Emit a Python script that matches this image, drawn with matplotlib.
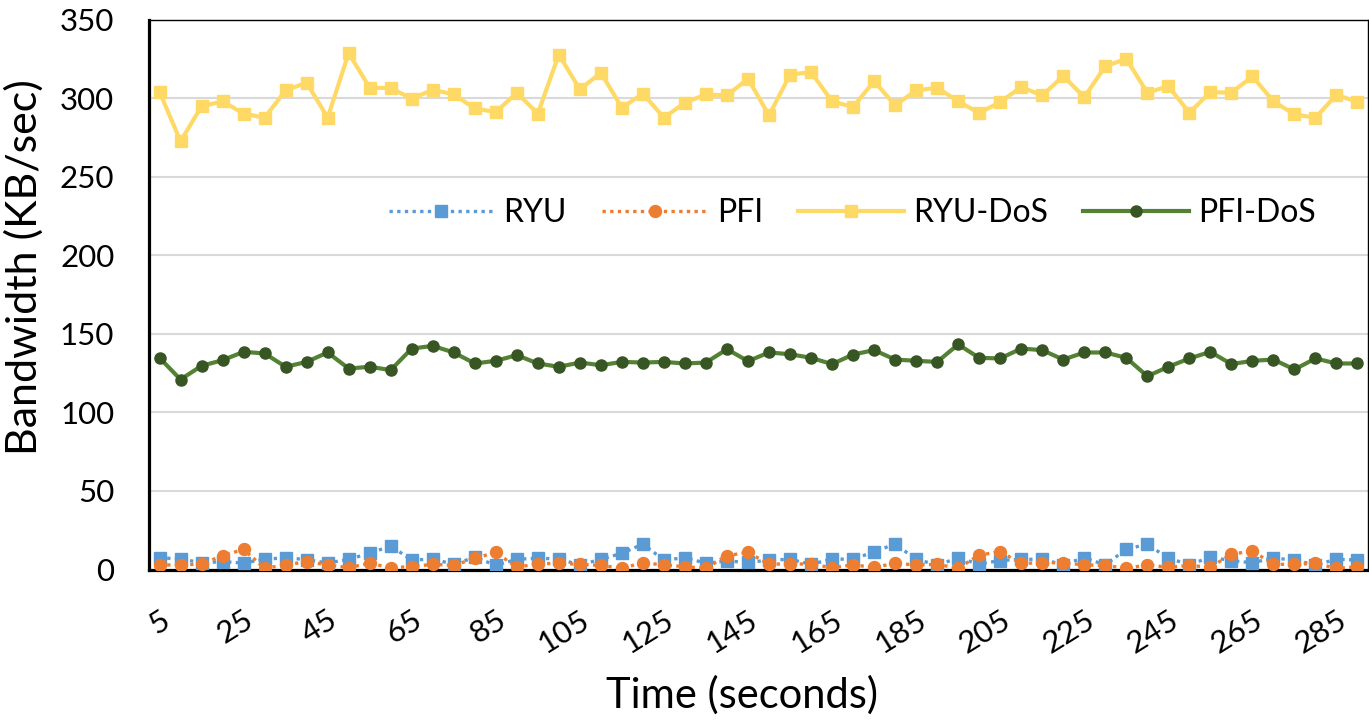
import matplotlib
matplotlib.use('Agg')
import matplotlib.pyplot as plt

plt.rcParams['font.family'] = ['Lato', 'DejaVu Sans']

# ---- data ----
time_s = [5, 10, 15, 20, 25, 30, 35, 40, 45, 50, 55, 60, 65, 70, 75, 80, 85, 90, 95, 100,
          105, 110, 115, 120, 125, 130, 135, 140, 145, 150, 155, 160, 165, 170, 175, 180,
          185, 190, 195, 200, 205, 210, 215, 220, 225, 230, 235, 240, 245, 250, 255, 260,
          265, 270, 275, 280, 285, 290]

ryu = [7.5, 6.7, 4.3, 5.0, 4.1, 6.5, 7.5, 6.3, 4.1, 6.5, 10.3, 15.0, 6.0, 6.7, 3.3, 7.8,
       2.7, 6.5, 7.2, 6.7, 2.9, 6.5, 10.3, 16.2, 6.0, 7.5, 4.0, 5.4, 4.5, 6.0, 6.5, 3.3,
       6.7, 6.5, 11.3, 16.2, 6.5, 2.9, 7.3, 3.5, 5.7, 6.5, 6.5, 3.1, 7.5, 2.9, 13.0, 16.0,
       7.2, 3.1, 7.8, 5.6, 4.3, 7.3, 6.0, 2.9, 6.5, 6.0]

pfi = [2.9, 2.9, 3.5, 8.8, 12.8, 0.8, 2.9, 5.0, 2.9, 1.2, 3.9, 1.2, 1.8, 3.3, 2.6, 7.1,
       10.9, 1.4, 3.7, 3.9, 3.3, 2.6, 0.8, 4.3, 2.9, 1.8, 0.8, 8.8, 10.9, 3.3, 3.7, 3.3,
       1.2, 2.9, 1.4, 3.9, 2.9, 3.3, 0.8, 9.2, 11.3, 3.9, 4.3, 4.3, 2.9, 2.6, 0.8, 2.9,
       1.4, 2.6, 1.4, 9.7, 11.8, 3.3, 3.3, 3.9, 0.8, 1.8]

ryu_dos = [304, 272.5, 294.7, 297.9, 290.1, 287.5, 304.9, 309.8, 287.5, 328.6,
           306.6, 306.4, 299.6, 305.3, 302.3, 293.4, 291.1, 303.4, 290.1, 327.7,
           305.5, 316.1, 293.9, 302.8, 287.5, 297.1, 302.3, 301.7, 312.3, 289.0,
           314.9, 316.5, 297.9, 294.3, 310.8, 295.4, 304.9, 306.6, 297.9, 290.5,
           297.5, 307.0, 301.7, 314.0, 300.6, 320.2, 325.0, 303.4, 307.6, 290.7,
           303.8, 303.4, 313.8, 297.9, 289.6, 287.5, 302.1, 297.5]

pfi_dos = [134.7, 120.9, 129.6, 133.2, 138.5, 137.5, 129.0, 132.1, 138.1, 127.9,
           129.0, 126.9, 140.6, 142.3, 138.1, 131.1, 132.8, 136.4, 131.1, 129.0,
           131.7, 130.0, 132.1, 131.7, 132.1, 131.1, 131.7, 140.2, 132.6, 138.1,
           137.0, 134.7, 130.7, 136.8, 139.6, 133.6, 132.8, 132.1, 143.2, 134.7,
           134.3, 140.6, 139.6, 133.6, 138.1, 138.1, 134.7, 123.0, 129.0, 134.3,
           138.5, 130.7, 132.8, 133.6, 127.3, 134.3, 131.1, 131.1]

tick_values = [5, 25, 45, 65, 85, 105, 125, 145, 165, 185, 205, 225, 245, 265, 285]
tick_labels = [str(v) for v in tick_values]
y_ticks = [0, 50, 100, 150, 200, 250, 300, 350]

# ---- figure ----
W, H = 1369, 728
fig = plt.figure(figsize=(W / 100, H / 100), dpi=100)
ax = fig.add_axes([149 / W, 1 - 569.5 / H, (1368 - 149) / W, (569.5 - 19.5) / H])

ax.plot(time_s, ryu, color='#5B9BD5', lw=2.4, linestyle=(0, (1, 1.3)),
        marker='s', markersize=8.3, markeredgecolor='#5B9BD5', markerfacecolor='#5B9BD5',
        label='RYU', zorder=3)
ax.plot(time_s, pfi, color='#ED7D31', lw=2.4, linestyle=(0, (1, 1.3)),
        marker='o', markersize=8.6, markeredgecolor='#ED7D31', markerfacecolor='#ED7D31',
        label='PFI', zorder=4)
ax.plot(time_s, ryu_dos, color='#FFD966', lw=3.0,
        marker='s', markersize=9.0, markeredgecolor='#FFD966', markerfacecolor='#FFD966',
        label='RYU-DoS', zorder=5)
ax.plot(time_s, pfi_dos, color='#548235', lw=3.0,
        marker='o', markersize=8.0, markeredgecolor='#375623', markerfacecolor='#375623',
        label='PFI-DoS', zorder=6)

ax.set_xlim(2.5, 292.5)
ax.set_ylim(0, 350)
ax.set_yticks(y_ticks)
ax.set_xticks(tick_values)
ax.set_xticklabels(tick_labels)
ax.yaxis.grid(True, color='#D9D9D9', lw=1.5, zorder=0)
ax.set_axisbelow(True)

for side in ['left', 'bottom']:
    ax.spines[side].set_linewidth(2.3)
    ax.spines[side].set_color('black')
for side in ['top', 'right']:
    ax.spines[side].set_linewidth(1.0)
    ax.spines[side].set_color('black')

ax.tick_params(axis='y', length=0, pad=25, labelsize=22.5)
ax.tick_params(axis='x', length=0, pad=26, labelsize=22.5)
for lab in ax.get_xticklabels():
    lab.set_rotation(32)
    lab.set_ha('right')
    lab.set_va('top')
    lab.set_rotation_mode('anchor')

leg = ax.legend(loc='center', bbox_to_anchor=(0.577, 0.648), ncol=4, frameon=False,
                fontsize=23, handlelength=3.3, handletextpad=0.3, columnspacing=1.1)

fig.text(24 / W, 1 - 267 / H, 'Bandwidth (KB/sec)', rotation=90, ha='center', va='center',
         fontsize=31)
fig.text(742 / W, 1 - 695 / H, 'Time (seconds)', ha='center', va='center', fontsize=30)

fig.savefig('out.png', dpi=100)
